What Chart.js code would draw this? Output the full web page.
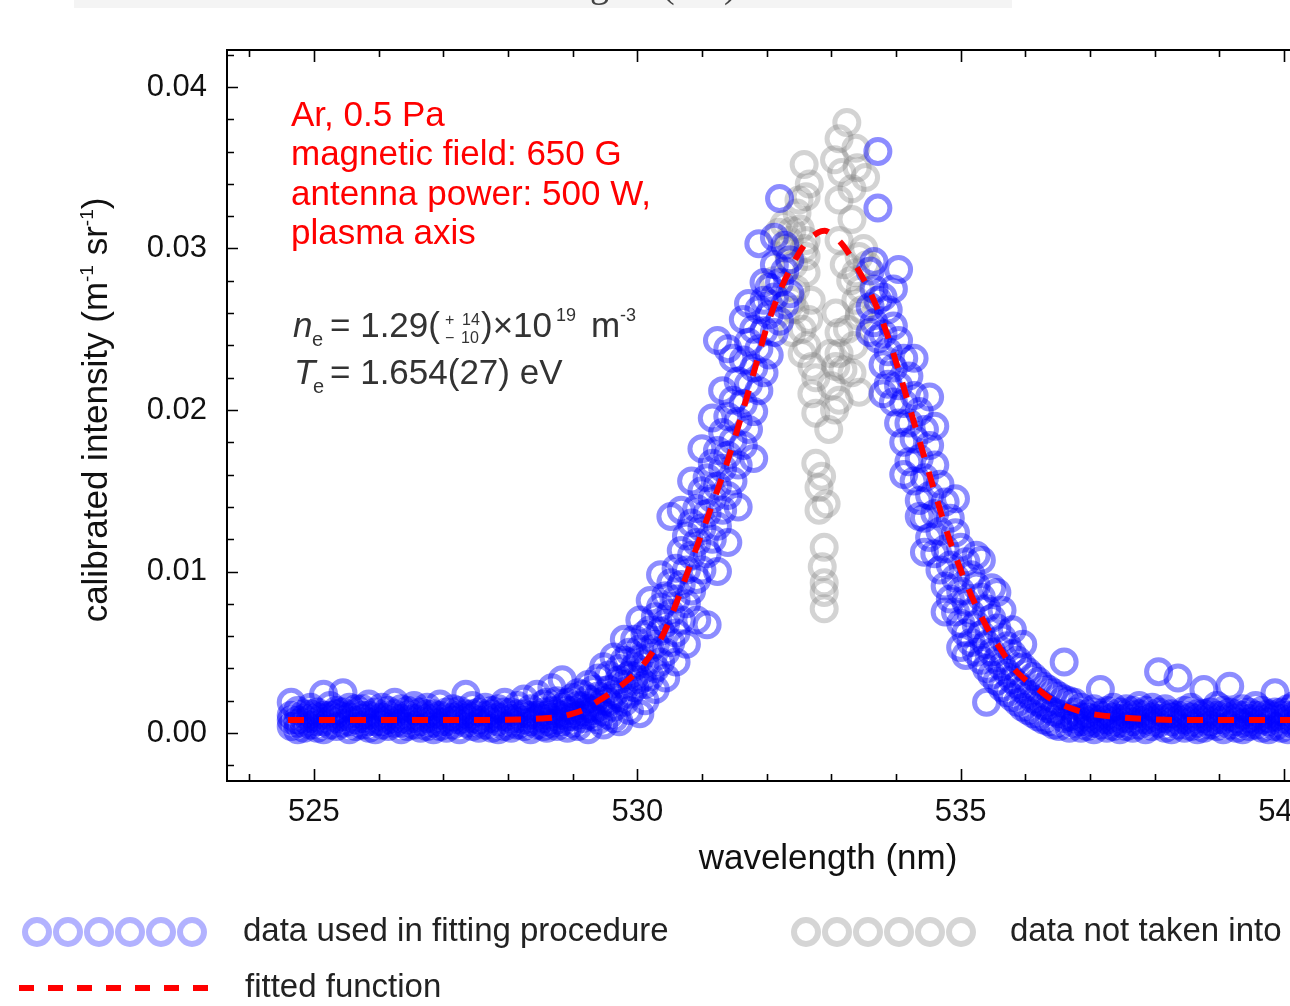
<!DOCTYPE html>
<html>
<head>
<meta charset="utf-8">
<title>Thomson scattering spectrum</title>
<script src="https://cdn.jsdelivr.net/npm/chart.js@4"></script>
<style>
  html, body { margin: 0; padding: 0; background: #fff; overflow: hidden; }
  #wrap { position: relative; width: 1290px; height: 1006px; overflow: hidden; }
  canvas { display: block; }
</style>
</head>
<body>
<div id="wrap"><canvas id="spectrum" width="1340" height="1006"></canvas></div>
<script>
// intensities below are in units of 1e-4 m^-1 sr^-1
const INT_UNIT = 1e-4;

// data used in fitting procedure: wavelength (nm) and the intensities seen at it
const usedWavelength = [
  524.65, 524.75, 524.85, 524.95, 525.05, 525.15, 525.25, 525.35, 525.45, 525.55,
  525.65, 525.75, 525.85, 525.95, 526.05, 526.15, 526.25, 526.35, 526.45, 526.55,
  526.65, 526.75, 526.85, 526.95, 527.05, 527.15, 527.25, 527.35, 527.45, 527.55,
  527.65, 527.75, 527.85, 527.95, 528.05, 528.15, 528.25, 528.35, 528.45, 528.55,
  528.60, 528.68, 528.76, 528.84, 528.92, 529.00, 529.08, 529.16, 529.24, 529.32,
  529.40, 529.48, 529.56, 529.64, 529.72, 529.80, 529.88, 529.96, 530.04, 530.12,
  530.20, 530.28, 530.36, 530.44, 530.52, 530.60, 530.68, 530.76, 530.84, 530.92,
  531.00, 531.08, 531.16, 531.24, 531.32, 531.40, 531.48, 531.56, 531.64, 531.72,
  531.80, 531.88, 531.96, 532.04, 532.12, 532.20, 532.28, 532.36,
  533.60, 533.66, 533.72, 533.80, 533.88, 533.96, 534.04, 534.12, 534.20, 534.28,
  534.36, 534.44, 534.52, 534.60, 534.68, 534.76, 534.84, 534.92, 535.00, 535.08,
  535.16, 535.24, 535.32, 535.40, 535.48, 535.56, 535.64, 535.72, 535.80, 535.88,
  535.96, 536.04, 536.12, 536.20, 536.28, 536.36, 536.44, 536.52, 536.60, 536.68,
  536.76, 536.86, 536.96, 537.06, 537.16, 537.26, 537.36, 537.46, 537.56, 537.66,
  537.76, 537.86, 537.96, 538.06, 538.16, 538.26, 538.36, 538.46, 538.56, 538.66,
  538.76, 538.86, 538.96, 539.06, 539.16, 539.26, 539.36, 539.46, 539.56, 539.66,
  539.76, 539.86, 539.96, 540.06, 540.16, 540.26
];
const usedIntensity = [
  [4,11,19,8], [2,8,14,6], [6,12,3,9], [9,16,5,12], [3,10,13,7], [7,24,2,11], [11,5,17,8], [4,9,14,12], [6,13,25,10], [2,10,16,7],
  [8,4,12,15], [5,15,9,11], [3,11,18,7], [7,13,2,10], [10,5,16,7], [4,8,14,11], [6,12,19,9], [2,9,15,6], [8,4,11,14], [5,14,17,9],
  [3,10,7,13], [9,16,4,12], [6,12,2,9], [4,11,18,7], [7,13,3,10], [10,5,15,8], [2,8,14,11], [6,12,24,9], [4,9,17,12], [8,13,3,6],
  [5,11,16,8], [3,9,14,12], [7,15,2,10], [4,10,19,13], [6,13,3,9], [9,17,5,12], [4,12,21,8], [7,15,2,11], [5,11,24,8], [9,18,4,13],
  [3,11,19,7], [6,14,28,10], [4,12,20,8], [7,16,33,11], [3,10,19,14], [6,14,22,10], [4,17,25,11], [9,13,24,17], [2,11,21,30,15], [10,19,27,14],
  [8,23,34,16], [13,20,41,5], [11,27,36,19], [16,24,47,9], [7,22,33,40], [19,30,45,58], [24,36,50,14], [28,41,58,35], [12,33,46,52,70], [30,43,61,20],
  [35,52,64,82], [40,55,72,27], [44,63,78,98], [50,68,85,34], [56,74,93,134], [62,83,102,44], [70,92,113,138], [80,101,122,55], [88,110,130,156], [95,118,139,70],
  [101,127,150,176], [111,136,158,67], [120,145,167,195], [128,153,175,243,100], [138,164,186,212], [147,172,196,238,118], [156,181,206,232], [166,193,218,140], [178,204,231,256], [188,216,242,266],
  [199,226,250,170], [212,238,262,303], [223,249,268,279], [234,259,276], [248,270,290,307], [255,279,331], [265,286,302], [272,293],
  [248,264,286], [254,275,292], [244,268,325,360], [228,247,270,210], [216,236,262], [205,226,252,275], [192,215,243,287], [180,204,232,160], [168,192,221], [156,182,209,232],
  [144,170,199,134], [133,158,188,112], [121,147,178,208], [111,136,166,190], [101,125,154], [91,114,143,75], [83,104,133], [75,96,124,145], [68,88,115,53], [62,81,106,48],
  [56,74,98], [50,67,91,110], [45,61,84,107], [40,55,77,19], [36,50,71,90], [32,45,65,87], [28,41,59,76], [25,37,54], [22,33,49,64], [19,30,45],
  [16,27,41,55], [14,24,38], [12,21,35], [10,19,32], [8,17,29], [7,15,27], [5,13,25], [4,12,23], [9,21,44], [3,10,20],
  [6,13,19,9], [3,10,16,7], [7,12,4,10], [2,9,15,6], [5,11,27,8], [8,14,3,11], [4,10,16,7], [6,13,2,9], [9,4,15,12], [3,11,7,14],
  [5,12,17,8], [8,2,14,11], [4,10,16,7], [6,13,38,9], [3,9,15,12], [7,12,2,10], [5,11,34,8], [8,14,3,11], [4,10,16,7], [6,12,2,9],
  [3,9,27,12], [7,13,5,10], [4,11,17,8], [8,2,14,11], [5,10,29,13], [3,12,7,9], [6,15,2,11], [9,4,13,7], [5,11,17,8], [3,8,14,11],
  [7,12,2,9], [4,10,25,13], [6,13,3,9], [8,2,15,11], [5,11,17,8], [3,9,14,11]
];

// data not taken into account (central part of the line)
const excludedWavelength = [
  533.24, 533.12, 533.38, 532.58, 533.16, 533.53, 533.32, 533.12, 532.61, 532.47,
  533.32, 532.39, 532.61, 533.12, 533.43, 532.61, 533.38, 532.61, 532.39, 532.69,
  533.07, 532.65, 533.43, 533.12, 532.39, 532.55, 533.12, 532.70, 533.07, 533.32,
  533.43, 533.12, 532.76, 532.96, 532.76, 532.85, 532.81, 532.92, 532.81, 532.89,
  532.86, 532.89, 532.89, 532.89, 532.19, 532.27, 532.35, 532.11, 532.50, 532.30,
  533.50, 533.55, 533.45, 532.45, 532.76, 533.00, 532.35, 532.42, 532.52, 532.58,
  532.44, 532.55, 532.62, 533.20, 533.30, 533.38, 533.48, 533.25, 533.35, 533.18,
  533.05, 532.98, 532.70, 533.40, 533.05, 532.66
];
const excludedIntensity = [
  378, 368, 362, 352, 347, 344, 337, 330, 332, 322,
  318, 311, 305, 305, 295, 295, 285, 285, 268, 268,
  260, 256, 258, 248, 248, 235, 235, 227, 227, 223,
  211, 206, 198, 188, 167, 159, 152, 142, 138, 115,
  103, 93, 87, 77, 310, 315, 293, 280, 330, 300,
  300, 290, 275, 275, 220, 215, 305, 290, 312, 300,
  262, 250, 240, 290, 280, 268, 262, 250, 240, 225,
  200, 235, 210, 350, 355, 340
];

// fitted function
const fitWavelength = [
  524.6, 525.5, 526.5, 527.5, 528.0, 528.5, 528.8, 529.0, 529.2, 529.4,
  529.6, 529.8, 530.0, 530.2, 530.4, 530.6, 530.8, 531.0, 531.2, 531.4,
  531.6, 531.8, 532.0, 532.2, 532.4, 532.6, 532.8, 532.9, 533.0, 533.2,
  533.4, 533.6, 533.8, 534.0, 534.2, 534.4, 534.6, 534.8, 535.0, 535.2,
  535.4, 535.6, 535.8, 536.0, 536.2, 536.4, 536.6, 536.8, 537.0, 537.4,
  537.8, 538.3, 539.0, 539.8, 540.3
];
const fitIntensity = [
  8, 8, 8, 8, 8.2, 9, 10, 12, 15, 20,
  25, 31, 38, 48, 61, 80, 102, 124, 146, 169,
  195, 223, 251, 273, 290, 303, 310, 311, 309, 301,
  288, 273, 254, 230, 203, 176, 149, 123, 101, 82,
  66, 53, 41, 33, 27, 21, 17, 14, 12, 10,
  8.8, 8, 8, 8, 8
];

// axes
const xMajorTicks = [525, 530, 535, 540];
const xMinorTicks = [524, 526, 527, 528, 529, 531, 532, 533, 534, 536, 537, 538, 539];
const yMajorTicks = [0, 0.01, 0.02, 0.03, 0.04];
const yMinorTicks = [-0.002, 0.002, 0.004, 0.006, 0.008, 0.012, 0.014, 0.016, 0.018,
  0.022, 0.024, 0.026, 0.028, 0.032, 0.034, 0.036, 0.038, 0.042];

const FONT = '"Liberation Sans", Arial, Helvetica, sans-serif';
const BLUE = 'rgba(0, 0, 255, 0.45)';
const GREY = 'rgba(128, 128, 128, 0.35)';

function buildUsedPoints() {
  const pts = [];
  usedWavelength.forEach((wl, i) => {
    usedIntensity[i].forEach(v => pts.push({ x: wl, y: v * INT_UNIT }));
  });
  return pts;
}

function buildPairs(xs, ys) {
  return xs.map((x, i) => ({ x: x, y: ys[i] * INT_UNIT }));
}

// frame and inward ticks on all sides
const frameTicks = {
  id: 'frameTicks',
  afterDraw(chart) {
    const ctx = chart.ctx;
    const a = chart.chartArea;
    const xs = chart.scales.x;
    const ys = chart.scales.y;
    ctx.save();
    ctx.strokeStyle = '#000';
    ctx.lineWidth = 2;
    ctx.strokeRect(a.left, a.top, a.right - a.left, a.bottom - a.top);

    ctx.lineWidth = 1.6;
    ctx.beginPath();
    function xTick(v, len) {
      const p = Math.round(xs.getPixelForValue(v)) + 0.5;
      ctx.moveTo(p, a.bottom); ctx.lineTo(p, a.bottom - len);
      ctx.moveTo(p, a.top); ctx.lineTo(p, a.top + len);
    }
    function yTick(v, len) {
      const p = Math.round(ys.getPixelForValue(v)) + 0.5;
      ctx.moveTo(a.left, p); ctx.lineTo(a.left + len, p);
      ctx.moveTo(a.right, p); ctx.lineTo(a.right - len, p);
    }
    xMajorTicks.forEach(v => xTick(v, 12));
    xMinorTicks.forEach(v => xTick(v, 7));
    yMajorTicks.forEach(v => yTick(v, 11));
    yMinorTicks.forEach(v => yTick(v, 7));
    ctx.stroke();
    ctx.restore();
  }
};

// texts: axis titles, run info, fit result, legend
const annotations = {
  id: 'annotations',
  afterDraw(chart) {
    const ctx = chart.ctx;
    ctx.save();

    // clipped caption strip at the very top
    ctx.fillStyle = '#f4f4f4';
    ctx.fillRect(74, 0, 938, 8);
    ctx.fillStyle = '#444';
    ctx.font = '38px "Liberation Serif", serif';
    ctx.textBaseline = 'alphabetic';
    ctx.fillText('g', 590, -3);
    ctx.fillText('(', 662, -3);
    ctx.fillText(')', 724, -3);

    // x title
    ctx.fillStyle = '#111';
    ctx.font = '35px ' + FONT;
    ctx.textAlign = 'center';
    ctx.fillText('wavelength (nm)', 828, 869);

    // y title, rotated, with superscripts
    ctx.save();
    ctx.translate(107, 410);
    ctx.rotate(-Math.PI / 2);
    ctx.textAlign = 'left';
    const parts = [
      ['calibrated intensity (m', 35, 0], ['-1', 19, -14],
      [' sr', 35, 0], ['-1', 19, -14], [')', 35, 0]
    ];
    let total = 0;
    parts.forEach(p => { ctx.font = p[1] + 'px ' + FONT; total += ctx.measureText(p[0]).width; });
    let cx = -total / 2;
    parts.forEach(p => {
      ctx.font = p[1] + 'px ' + FONT;
      ctx.fillText(p[0], cx, p[2]);
      cx += ctx.measureText(p[0]).width;
    });
    ctx.restore();

    // run conditions in red
    ctx.textAlign = 'left';
    ctx.fillStyle = '#ff0000';
    ctx.font = '35px ' + FONT;
    ['Ar, 0.5 Pa', 'magnetic field: 650 G', 'antenna power: 500 W,', 'plasma axis']
      .forEach((t, i) => ctx.fillText(t, 291, 126 + i * 39.3));

    // fit results
    ctx.fillStyle = '#333';
    ctx.font = 'italic 35px ' + FONT;
    ctx.fillText('n', 293, 337);
    ctx.fillText('T', 294, 384);
    ctx.font = '20px ' + FONT;
    ctx.fillText('e', 312, 346);
    ctx.fillText('e', 313, 393);
    ctx.font = '35px ' + FONT;
    ctx.fillText('= 1.29(', 330, 337);
    ctx.fillText(')\u00d710', 481, 337);
    ctx.fillText('m', 591, 337);
    ctx.fillText('= 1.654(27) eV', 330, 384);
    ctx.font = '16px ' + FONT;
    ctx.fillText('+', 445, 325);
    ctx.fillText('14', 462, 325);
    ctx.fillText('\u2212', 445, 343);
    ctx.fillText('10', 461, 343);
    ctx.font = '18px ' + FONT;
    ctx.fillText('19', 556, 321);
    ctx.fillText('-3', 620, 321);

    // legend
    function rings(x0, y, color) {
      ctx.strokeStyle = color;
      ctx.lineWidth = 6;
      for (let i = 0; i < 6; i++) {
        ctx.beginPath();
        ctx.arc(x0 + i * 31, y, 12, 0, Math.PI * 2);
        ctx.stroke();
      }
    }
    rings(37, 932, 'rgba(0, 0, 255, 0.3)');
    rings(806, 932, 'rgba(128, 128, 128, 0.33)');
    ctx.strokeStyle = '#ff0000';
    ctx.lineWidth = 6;
    ctx.beginPath();
    for (let i = 0; i < 7; i++) {
      ctx.moveTo(19 + i * 29, 988);
      ctx.lineTo(34 + i * 29, 988);
    }
    ctx.stroke();
    ctx.fillStyle = '#222';
    ctx.font = '33px ' + FONT;
    ctx.textBaseline = 'middle';
    ctx.fillText('data used in fitting procedure', 243, 932);
    ctx.fillText('data not taken into account', 1010, 932);
    ctx.fillText('fitted function', 245, 988);
    ctx.restore();
  }
};

function createSpectrumChart() {
  const ctx = document.getElementById('spectrum').getContext('2d');
  new Chart(ctx, {
    type: 'scatter',
    data: {
      datasets: [
        {
          label: 'fitted function',
          type: 'line',
          showLine: true,
          data: buildPairs(fitWavelength, fitIntensity),
          borderColor: '#ff0000',
          borderWidth: 6,
          borderDash: [16, 15],
          pointRadius: 0,
          fill: false,
          cubicInterpolationMode: 'monotone',
          order: 0
        },
        {
          label: 'data used in fitting procedure',
          data: buildUsedPoints(),
          pointStyle: 'circle',
          pointRadius: 12,
          pointHoverRadius: 12,
          borderWidth: 5,
          borderColor: BLUE,
          backgroundColor: 'rgba(0, 0, 0, 0)',
          order: 1
        },
        {
          label: 'data not taken into account',
          data: buildPairs(excludedWavelength, excludedIntensity),
          pointStyle: 'circle',
          pointRadius: 12,
          pointHoverRadius: 12,
          borderWidth: 5,
          borderColor: GREY,
          backgroundColor: 'rgba(0, 0, 0, 0)',
          order: 2
        }
      ]
    },
    options: {
      responsive: false,
      animation: false,
      events: [],
      layout: { padding: { top: 50, left: 0, right: 15, bottom: 0 } },
      plugins: {
        legend: { display: false },
        tooltip: { enabled: false }
      },
      scales: {
        x: {
          type: 'linear',
          min: 523.657,
          max: 540.602,
          afterFit: s => { s.height = 225; },
          afterBuildTicks: s => { s.ticks = xMajorTicks.map(v => ({ value: v })); },
          grid: { display: false, drawTicks: false },
          border: { display: false },
          ticks: {
            padding: 13,
            maxRotation: 0,
            autoSkip: false,
            color: '#111',
            font: { family: FONT, size: 31 },
            callback: v => String(v)
          }
        },
        y: {
          type: 'linear',
          min: -0.00297,
          max: 0.04229,
          afterFit: s => { s.width = 227; },
          afterBuildTicks: s => { s.ticks = yMajorTicks.map(v => ({ value: v })); },
          grid: { display: false, drawTicks: false },
          border: { display: false },
          ticks: {
            padding: 20,
            autoSkip: false,
            color: '#111',
            font: { family: FONT, size: 31 },
            callback: v => v.toFixed(2)
          }
        }
      }
    },
    plugins: [frameTicks, annotations]
  });
}

createSpectrumChart();
</script>
</body>
</html>
